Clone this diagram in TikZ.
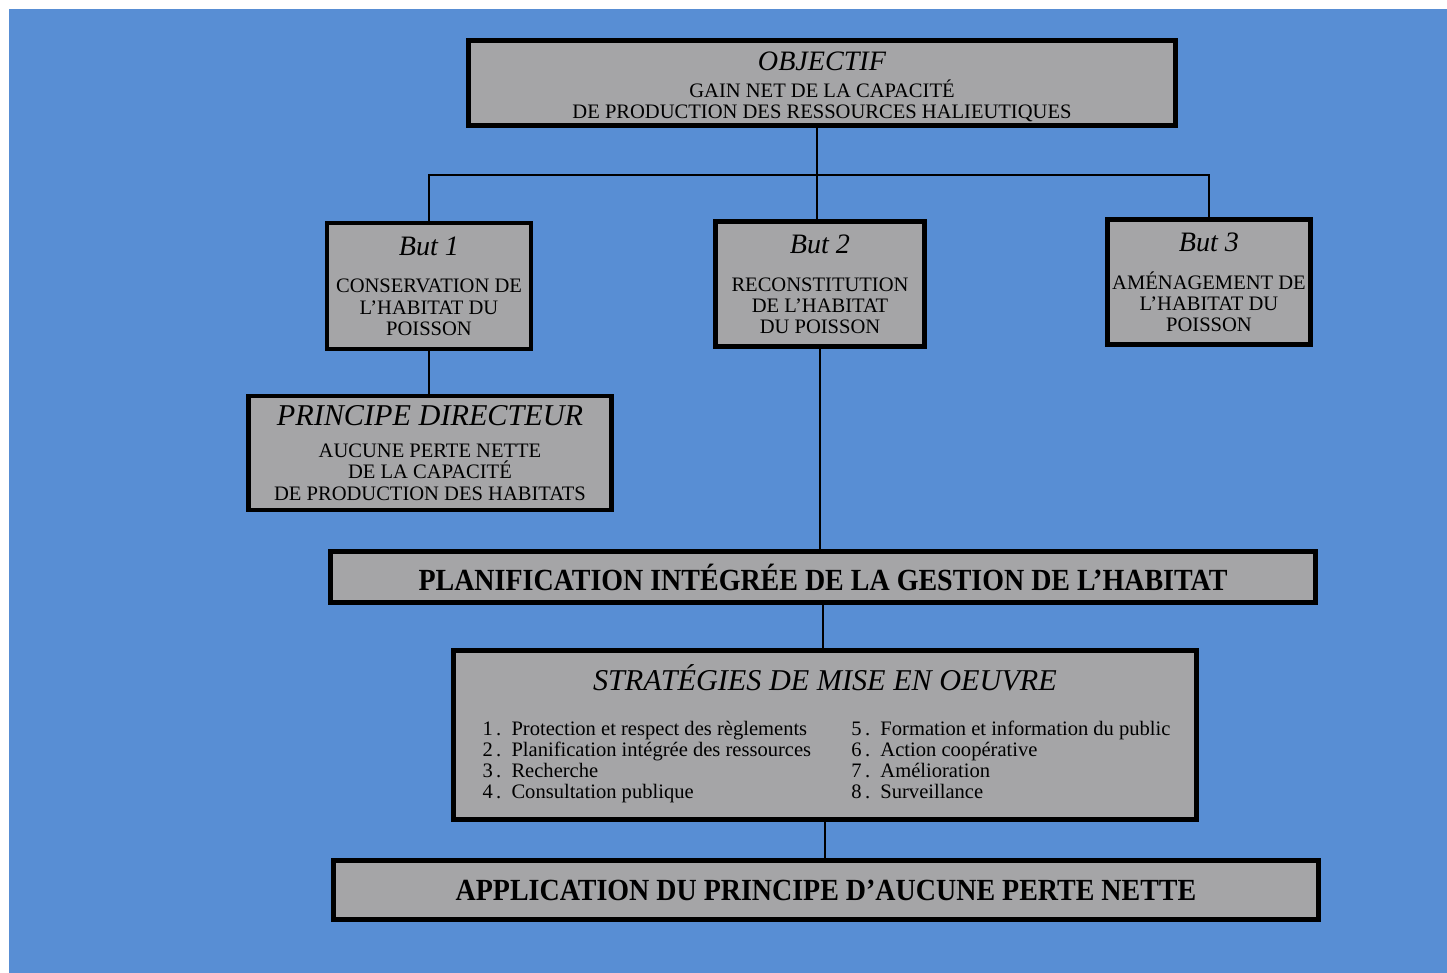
\documentclass[tikz,border=0pt]{standalone}
\usepackage{fontspec}
\setmainfont{Liberation Serif}
\newfontfamily\bannerfont[FakeStretch=0.91]{Liberation Serif}
\usepackage{tikz}

\definecolor{sea}{RGB}{88,142,212}
\definecolor{slate}{RGB}{165,165,167}

\newcommand{\headtext}[1]{{\fontsize{16}{16}\selectfont\itshape #1}}
\newcommand{\bigheadtext}[1]{{\fontsize{17.2}{17}\selectfont\itshape #1}}
\newcommand{\bannertext}[1]{{\bannerfont\fontsize{17.5}{17}\selectfont\bfseries #1}}
\newcommand{\stratitem}[2]{\makebox[0.58cm][l]{#1\,.}#2}

\begin{document}
\begin{tikzpicture}[x=0.02cm, y=-0.02cm,
    box/.style={draw=black, fill=slate, line width=2.8pt, inner sep=0pt,
      align=center, font=\fontsize{11.7}{12}\selectfont},
    link/.style={line width=1.3pt}]

  \fill[white] (0,0) rectangle (1447,973);
  \useasboundingbox (0,0) rectangle (1447,973);
  \fill[sea] (9,9) rectangle (1447,973);

  \node[box, minimum width=14.14cm, minimum height=1.70cm] (obj) at (822,83)
    {\rule{0pt}{15pt}\headtext{OBJECTIF}\\[3pt]
     GAIN NET DE LA CAPACITÉ\\
     DE PRODUCTION DES RESSOURCES HALIEUTIQUES};

  \node[box, minimum width=4.08cm, minimum height=2.52cm] (but1) at (429,286)
    {\headtext{But 1}\\[9.5pt] CONSERVATION DE\\L’HABITAT DU\\POISSON};
  \node[box, minimum width=4.18cm, minimum height=2.50cm] (but2) at (820,284)
    {\headtext{But 2}\\[9.5pt] RECONSTITUTION\\DE L’HABITAT\\DU POISSON};
  \node[box, minimum width=4.06cm, minimum height=2.50cm] (but3) at (1209,282)
    {\headtext{But 3}\\[9.5pt] AMÉNAGEMENT DE\\L’HABITAT DU\\POISSON};

  \node[box, minimum width=7.26cm, minimum height=2.28cm, font=\fontsize{11.7}{12.3}\selectfont] (princ) at (430,453)
    {\bigheadtext{PRINCIPE DIRECTEUR}\\[6pt]
     AUCUNE PERTE NETTE\\DE LA CAPACITÉ\\DE PRODUCTION DES HABITATS};

  \node[box, minimum width=19.70cm, minimum height=1.02cm] (plan) at (823,577)
    {\bannertext{PLANIFICATION INTÉGRÉE DE LA GESTION DE L’HABITAT}};

  \node[box, minimum width=14.88cm, minimum height=3.38cm] (strat) at (825,735)
    {\bigheadtext{STRATÉGIES DE MISE EN OEUVRE}\\[13.3pt]
     \hspace{0.06cm}\begin{tabular}[t]{@{}p{7.38cm}@{}l@{}}
       \stratitem{1}{Protection et respect des règlements} & \stratitem{5}{Formation et information du public}\\
       \stratitem{2}{Planification intégrée des ressources} & \stratitem{6}{Action coopérative}\\
       \stratitem{3}{Recherche} & \stratitem{7}{Amélioration}\\
       \stratitem{4}{Consultation publique} & \stratitem{8}{Surveillance}
     \end{tabular}};

  \node[box, minimum width=19.72cm, minimum height=1.18cm] (appl) at (826,890)
    {\bannertext{APPLICATION DU PRINCIPE D’AUCUNE PERTE NETTE}};

  % liens
  \coordinate (fork) at (817,175);
  \draw[link] (obj.south -| fork) -- (fork);
  \draw[link] (but1.north) |- (fork) -| (but3.north);
  \draw[link] (fork) -- (fork |- but2.north);
  \draw[link] (but1) -- (but1 |- princ.north);
  \draw[link] (but2) -- (but2 |- plan.north);
  \draw[link] (plan) -- (plan |- strat.north);
  \draw[link] (strat) -- (strat |- appl.north);
\end{tikzpicture}
\end{document}
